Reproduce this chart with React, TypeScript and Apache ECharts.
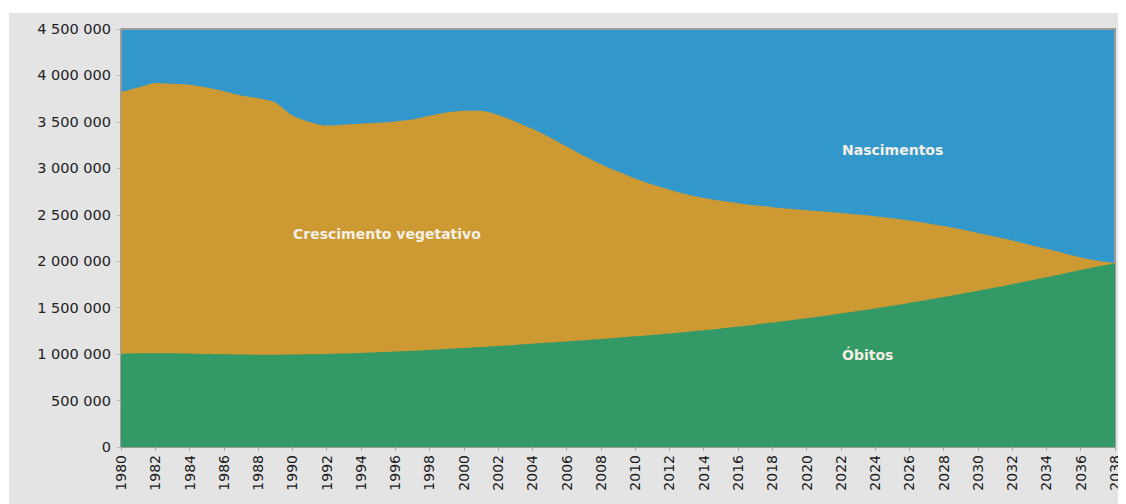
import React, { useEffect, useRef } from "react";
import * as echarts from "echarts";

const years: string[] = [];
for (let y = 1980; y <= 2038; y++) years.push(String(y));

// Nascimentos (total births), in millions
const births = [
  3.82, 3.87, 3.92, 3.91, 3.9, 3.87, 3.83, 3.785, 3.755, 3.71,
  3.57, 3.5, 3.46, 3.47, 3.48, 3.49, 3.505, 3.525, 3.565, 3.6,
  3.62, 3.62, 3.575, 3.505, 3.425, 3.335, 3.235, 3.135, 3.045, 2.965,
  2.89, 2.825, 2.77, 2.72, 2.68, 2.65, 2.625, 2.602, 2.582, 2.565,
  2.55, 2.535, 2.52, 2.503, 2.485, 2.463, 2.438, 2.41, 2.378, 2.343,
  2.305, 2.265, 2.222, 2.178, 2.133, 2.087, 2.04, 2.005, 1.98,
];

// Óbitos (deaths), in millions
const deaths = [
  1.005, 1.01, 1.01, 1.008, 1.005, 1.002, 0.998, 0.995, 0.993, 0.993,
  0.995, 0.998, 1.001, 1.006, 1.012, 1.019, 1.027, 1.036, 1.045, 1.055,
  1.065, 1.076, 1.087, 1.099, 1.111, 1.124, 1.137, 1.15, 1.163, 1.177,
  1.191, 1.206, 1.222, 1.239, 1.257, 1.276, 1.296, 1.317, 1.339, 1.362,
  1.386, 1.411, 1.437, 1.464, 1.492, 1.521, 1.551, 1.582, 1.614, 1.647,
  1.681, 1.716, 1.752, 1.789, 1.827, 1.866, 1.906, 1.943, 1.975,
];

const labels = {
  growth: "Crescimento vegetativo",
  births: "Nascimentos",
  deaths: "Óbitos",
};

const fmt = (v: number) =>
  String(Math.round(v)).replace(/\B(?=(\d{3})+(?!\d))/g, " ");

export default function App() {
  const ref = useRef<HTMLDivElement>(null);
  useEffect(() => {
    if (!ref.current) return;
    const chart = echarts.init(ref.current, null, { renderer: "svg" });
    const txt = { fill: "#f4f0e6", font: "bold 14px 'DejaVu Sans', sans-serif" };
    chart.setOption({
      animation: false,
      backgroundColor: "#e4e4e4",
      grid: {
        left: 112,
        right: 11,
        top: 16,
        bottom: 57,
        show: true,
        backgroundColor: "#3298cc",
        borderColor: "#9c9c9c",
        borderWidth: 2,
      },
      xAxis: {
        type: "category",
        data: years,
        boundaryGap: false,
        axisLine: { lineStyle: { color: "#999" } },
        axisTick: { interval: 1, length: 4, lineStyle: { color: "#aaa" } },
        axisLabel: {
          interval: 1,
          rotate: 90,
          margin: 8,
          color: "#1a1a1a",
          fontSize: 14,
          fontFamily: "DejaVu Sans",
        },
      },
      yAxis: {
        type: "value",
        min: 0,
        max: 4500000,
        interval: 500000,
        splitLine: { show: false },
        axisLine: { show: true, lineStyle: { color: "#999" } },
        axisTick: { show: true, length: 4, lineStyle: { color: "#bbb" } },
        axisLabel: {
          margin: 10,
          color: "#222",
          fontSize: 14.5,
          fontFamily: "DejaVu Sans",
          formatter: (v: number) => fmt(v),
        },
      },
      series: [
        {
          name: labels.births,
          type: "line",
          data: births.map((v) => v * 1e6),
          showSymbol: false,
          smooth: 0.25,
          lineStyle: { width: 0 },
          areaStyle: { color: "#cc9933", opacity: 1 },
          z: 2,
        },
        {
          name: labels.deaths,
          type: "line",
          data: deaths.map((v) => v * 1e6),
          showSymbol: false,
          smooth: 0.25,
          lineStyle: { width: 0 },
          areaStyle: { color: "#339966", opacity: 1 },
          z: 3,
        },
      ],
      graphic: [
        { type: "text", left: 284, top: 214, z: 10, style: { ...txt, text: labels.growth } },
        { type: "text", left: 833, top: 130, z: 10, style: { ...txt, text: labels.births } },
        { type: "text", left: 833, top: 335, z: 10, style: { ...txt, text: labels.deaths } },
      ],
    });
    return () => chart.dispose();
  }, []);
  return (
    <div style={{ width: 1118, height: 496, background: "#fff" }}>
      <div ref={ref} style={{ marginLeft: 1, position: "relative", top: 5, width: 1117, height: 491 }} />
    </div>
  );
}
